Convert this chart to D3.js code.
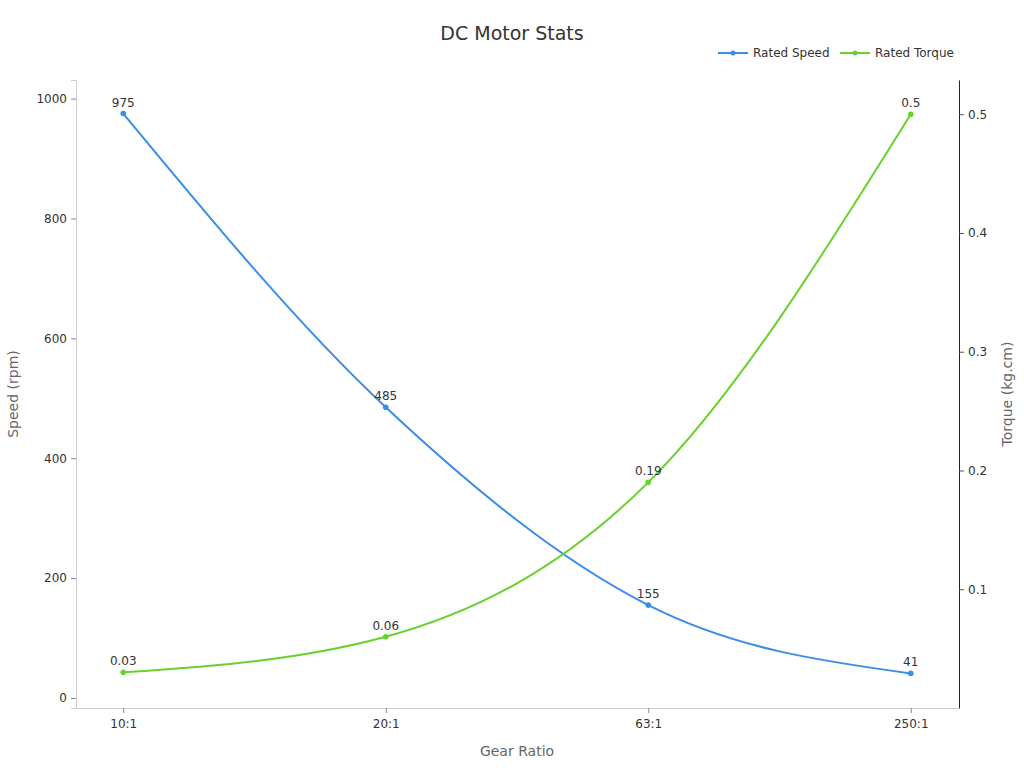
<!DOCTYPE html>
<html>
<head>
<meta charset="utf-8">
<script src="https://cdn.jsdelivr.net/npm/d3@7"></script>
<style>
  body { margin: 0; background: #fff; font-family: "DejaVu Sans", sans-serif; }
  svg text { font-family: "DejaVu Sans", sans-serif; }
</style>
</head>
<body>
<div id="chart"></div>
<script>
const gearRatios = ["10:1", "20:1", "63:1", "250:1"];
const ratedSpeed = [975, 485, 155, 41];
const ratedTorque = [0.03, 0.06, 0.19, 0.5];
const speedTicks = [0, 200, 400, 600, 800, 1000];
const torqueTicks = [0.1, 0.2, 0.3, 0.4, 0.5];

const blue = "#3a8ee6";
const green = "#68d12e";

const width = 1024;
const height = 768;
const margin = { top: 80, right: 66, bottom: 60, left: 76 };
const innerW = width - margin.left - margin.right;
const innerH = height - margin.top - margin.bottom;

const svg = d3.select("#chart")
  .append("svg")
  .attr("width", width)
  .attr("height", height);

const g = svg.append("g")
  .attr("transform", `translate(${margin.left},${margin.top})`);

const x = d3.scalePoint().domain(gearRatios).range([0, innerW]).padding(0.18);
const ySpeed = d3.scaleLinear().domain([-16.7, 1031]).range([innerH, 0]);
const yTorque = d3.scaleLinear().domain([0, 0.5288]).range([innerH, 0]);

// Title
svg.append("text")
  .attr("x", width / 2)
  .attr("y", 40)
  .attr("text-anchor", "middle")
  .attr("font-size", "19px")
  .attr("fill", "#333")
  .text("DC Motor Stats");

// Left axis
const leftAxis = g.append("g")
  .call(d3.axisLeft(ySpeed).tickValues(speedTicks).tickFormat(d3.format("d")).tickSize(5).tickPadding(4));
leftAxis.select(".domain").attr("stroke", "#ccc");
leftAxis.selectAll(".tick line").attr("stroke", "#888");
leftAxis.selectAll(".tick text").attr("font-size", "12px").attr("fill", "#333");

// Bottom axis
const bottomAxis = g.append("g")
  .attr("transform", `translate(0,${innerH})`)
  .call(d3.axisBottom(x).tickSize(5).tickPadding(6).tickSizeOuter(0));
bottomAxis.select(".domain").attr("stroke", "#ccc");
bottomAxis.selectAll(".tick line").attr("stroke", "#888");
bottomAxis.selectAll(".tick text").attr("font-size", "12px").attr("fill", "#333");

// Right axis
const rightAxis = g.append("g")
  .attr("transform", `translate(${innerW + 1},0)`)
  .call(d3.axisRight(yTorque).tickValues(torqueTicks).tickFormat((d) => String(+d.toFixed(2))).tickSize(5).tickPadding(4).tickSizeOuter(0));
rightAxis.select(".domain").attr("stroke", "#222");
rightAxis.selectAll(".tick line").attr("stroke", "#555");
rightAxis.selectAll(".tick text").attr("font-size", "12px").attr("fill", "#333");

// Axis titles
svg.append("text")
  .attr("transform", `translate(18,${margin.top + innerH / 2}) rotate(-90)`)
  .attr("text-anchor", "middle")
  .attr("font-size", "14px")
  .attr("fill", "#666")
  .text("Speed (rpm)");

svg.append("text")
  .attr("transform", `translate(1012,${margin.top + innerH / 2}) rotate(-90)`)
  .attr("text-anchor", "middle")
  .attr("font-size", "14px")
  .attr("fill", "#666")
  .text("Torque (kg.cm)");

svg.append("text")
  .attr("x", margin.left + innerW / 2)
  .attr("y", 756)
  .attr("text-anchor", "middle")
  .attr("font-size", "14px")
  .attr("fill", "#666")
  .text("Gear Ratio");

// Series
const series = [
  { name: "Rated Speed", values: ratedSpeed, y: ySpeed, color: blue },
  { name: "Rated Torque", values: ratedTorque, y: yTorque, color: green },
];

series.forEach((s) => {
  const line = d3.line()
    .x((d, i) => x(gearRatios[i]))
    .y((d) => s.y(d))
    .curve(d3.curveMonotoneX);

  g.append("path")
    .datum(s.values)
    .attr("fill", "none")
    .attr("stroke", s.color)
    .attr("stroke-width", 2)
    .attr("d", line);

  g.selectAll(null)
    .data(s.values)
    .enter()
    .append("circle")
    .attr("cx", (d, i) => x(gearRatios[i]))
    .attr("cy", (d) => s.y(d))
    .attr("r", 2.8)
    .attr("fill", s.color);

  g.selectAll(null)
    .data(s.values)
    .enter()
    .append("text")
    .attr("x", (d, i) => x(gearRatios[i]))
    .attr("y", (d) => s.y(d) - 7)
    .attr("text-anchor", "middle")
    .attr("font-size", "12px")
    .attr("fill", "#333")
    .text((d) => d);
});

// Legend
const legend = svg.append("g").attr("transform", "translate(718,53)");
const legendX = [0, 122];
series.forEach((s, i) => {
  const item = legend.append("g").attr("transform", `translate(${legendX[i]},0)`);
  item.append("line")
    .attr("x1", 0).attr("x2", 30)
    .attr("stroke", s.color).attr("stroke-width", 2);
  item.append("circle")
    .attr("cx", 15).attr("r", 2.5).attr("fill", s.color);
  item.append("text")
    .attr("x", 35).attr("dy", "0.35em")
    .attr("font-size", "12px")
    .attr("fill", "#333")
    .text(s.name);
});
</script>
</body>
</html>
